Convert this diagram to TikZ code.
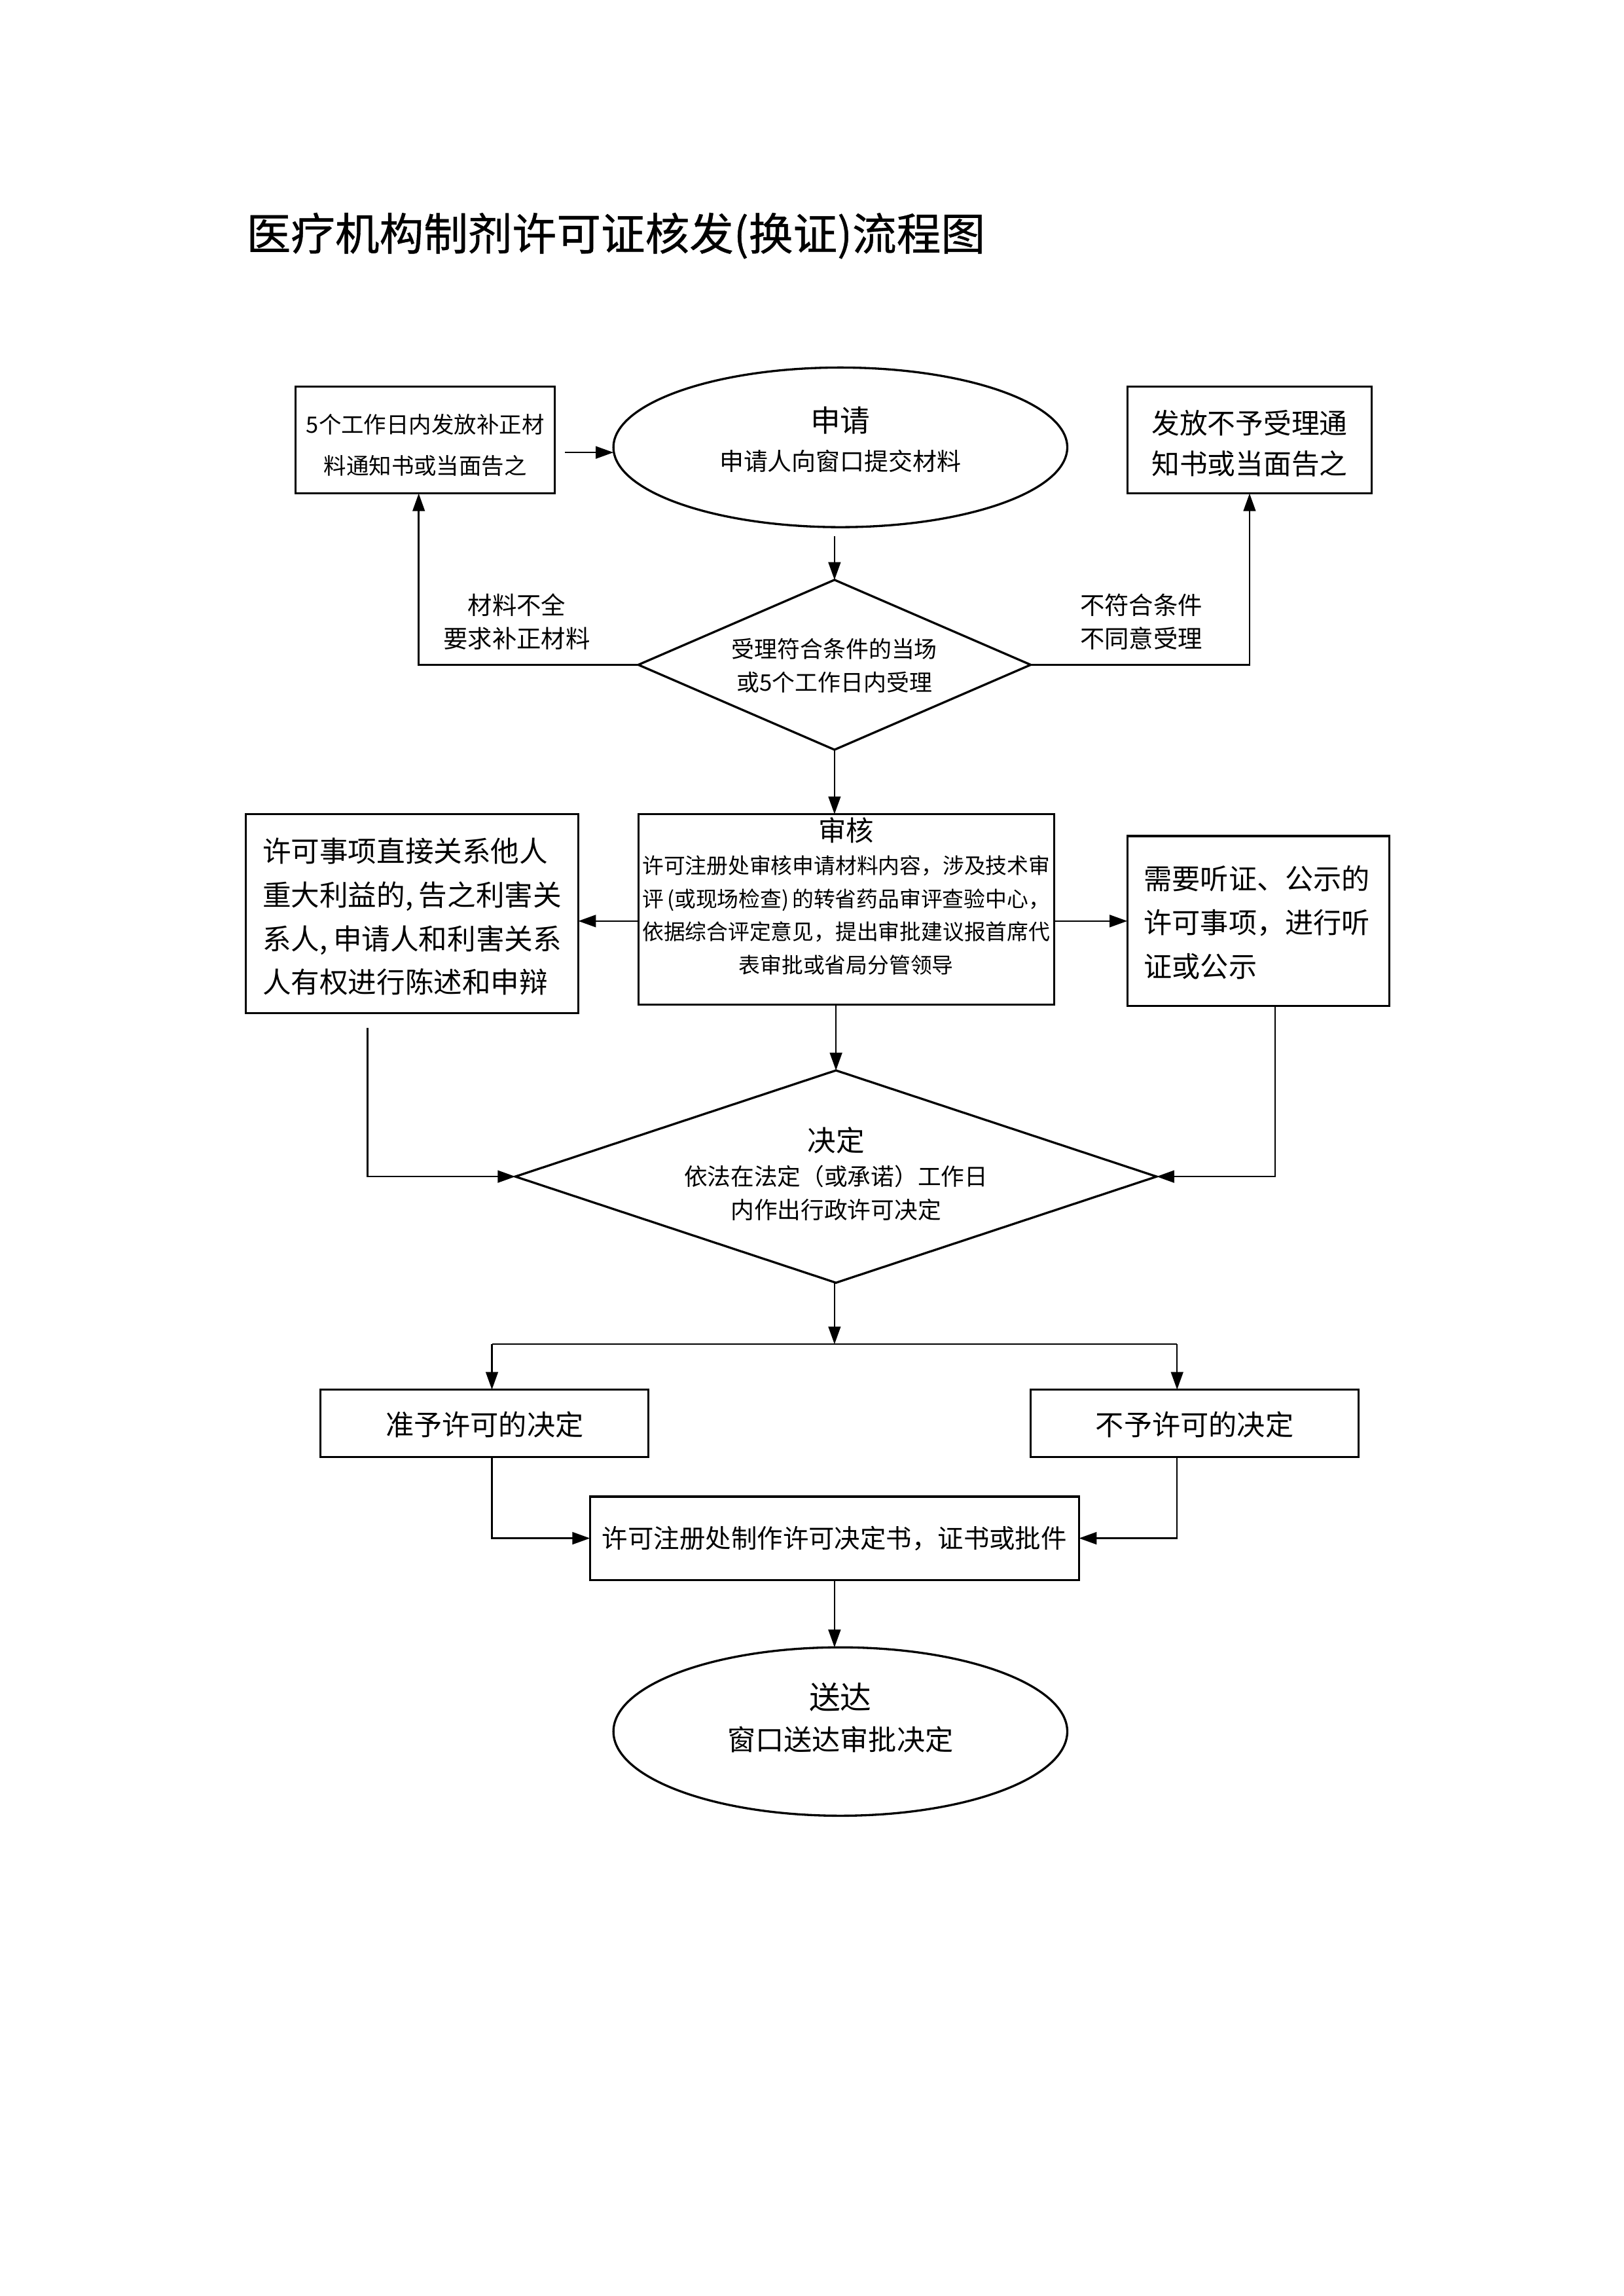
\documentclass[tikz,border=0pt]{standalone}
\usepackage{fontspec}
\setmainfont{Noto Sans CJK SC}
\usetikzlibrary{shapes.geometric,arrows.meta}
\def\px{0.18936mm}
\newcommand{\fs}[2]{\fontsize{#1}{#2}\selectfont}
\newcommand{\hcomma}{,\hspace{0.2em}}
\tikzset{
  shapeline/.style={draw=black, line width=0.8pt, inner sep=0pt, outer sep=0pt},
  boxshape/.style={shapeline, rectangle},
  ovalshape/.style={shapeline, ellipse},
  diashape/.style={shapeline, diamond},
  conn/.style={draw=black, line width=0.6pt},
  arr/.style={conn, -{Triangle[length=6.5pt,width=4.5pt]}},
  txt/.style={inner sep=0pt, align=center, text=black},
}
\begin{document}
\begin{tikzpicture}[x=0.18936mm, y=-0.18936mm]
\useasboundingbox (0,0) rectangle (1109,1568);
\fill[white] (0,0) rectangle (1109,1568);

% title
\node[txt, anchor=west, font={\fs{16.3}{20}\addfontfeatures{FakeBold=0.6}}] (title) at (168,161) {医疗机构制剂许可证核发(换证)流程图};

% shapes
\node[boxshape, minimum width=177*\px, minimum height=73*\px] (a1) at (290.5,300.5) {};
\node[ovalshape, minimum width=310*\px, minimum height=109*\px] (sq) at (574,305.5) {};
\node[boxshape, minimum width=167*\px, minimum height=73*\px] (a2) at (853.5,300.5) {};
\node[diashape, minimum width=268*\px, minimum height=116*\px] (d1) at (570,454) {};
\node[boxshape, minimum width=284*\px, minimum height=130*\px] (rv) at (578,621) {};
\node[boxshape, minimum width=227*\px, minimum height=136*\px] (lb) at (281.5,624) {};
\node[boxshape, minimum width=179*\px, minimum height=116*\px] (rb) at (859.5,629) {};
\node[diashape, minimum width=438*\px, minimum height=145*\px] (d2) at (571,803.5) {};
\node[boxshape, minimum width=224*\px, minimum height=46*\px] (yb) at (331,972) {};
\node[boxshape, minimum width=224*\px, minimum height=46*\px] (nb) at (816,972) {};
\node[boxshape, minimum width=334*\px, minimum height=57*\px] (mk) at (570,1050.5) {};
\node[ovalshape, minimum width=310*\px, minimum height=115*\px] (sd) at (574,1182.5) {};

% texts
\node[txt, font={\fs{8.3}{15}}] (a1t) at (290.5,304) {5个工作日内发放补正材\\料通知书或当面告之};
\node[txt, font={\fs{11}{13}}] (sqt1) at (574,287) {申请};
\node[txt, font={\fs{8.9}{11}}] (sqt2) at (574,315) {申请人向窗口提交材料};
\node[txt, font={\fs{10.3}{15}}] (a2t) at (853.5,303) {发放不予受理通\\知书或当面告之};
\node[txt, font={\fs{8.4}{12.3}}] (d1t) at (570,454.5) {受理符合条件的当场\\或5个工作日内受理};
\node[txt, font={\fs{9}{12.3}}] (l1) at (353,424.5) {材料不全\\要求补正材料};
\node[txt, font={\fs{9}{12.3}}] (l2) at (779.5,424.5) {不符合条件\\不同意受理};
\node[txt, font={\fs{10.2}{12}}] (rvt1) at (578,567) {审核};
\node[txt, font={\fs{7.9}{12.2}}] (rvt2) at (578,625) {许可注册处审核申请材料内容，涉及技术审\\评\hspace{0.15em}(或现场检查)\hspace{0.15em}的转省药品审评查验中心，\\依据综合评定意见，提出审批建议报首席代\\表审批或省局分管领导};
\node[txt, anchor=west, align=left, font={\fs{10.5}{16.1}}] (lbt) at (179,626) {许可事项直接关系他人\\重大利益的\hcomma 告之利害关\\系人\hcomma 申请人和利害关系\\人有权进行陈述和申辩};
\node[txt, anchor=west, align=left, font={\fs{10.4}{16.1}}] (rbt) at (781,630) {需要听证、公示的\\许可事项，进行听\\证或公示};
\node[txt, font={\fs{10.5}{12}}] (d2t1) at (571,779) {决定};
\node[txt, font={\fs{8.6}{12.3}}] (d2t2) at (571,814.5) {依法在法定（或承诺）工作日\\内作出行政许可决定};
\node[txt, font={\fs{10.4}{12}}] (ybt) at (331,973) {准予许可的决定};
\node[txt, font={\fs{10.4}{12}}] (nbt) at (816,973) {不予许可的决定};
\node[txt, font={\fs{9.5}{12}}] (mkt) at (570,1050.5) {许可注册处制作许可决定书，证书或批件};
\node[txt, font={\fs{11.5}{13}}] (sdt1) at (574,1159) {送达};
\node[txt, font={\fs{10.4}{12}}] (sdt2) at (574,1188) {窗口送达审批决定};

% connectors
\draw[arr] ([xshift=7*\px,yshift=-8.5*\px]a1.east) -- ([yshift=-3.5*\px]sq.west);
\draw[arr] ([yshift=-6*\px]sq.south -| d1.north) -- (d1.north);
\draw[arr] (d1.west) -| ([xshift=-4.5*\px]a1.south);
\draw[arr] (d1.east) -| (a2.south);
\draw[arr] (d1.south) -- (d1.south |- rv.north);
\draw[arr] ([yshift=-8*\px]rv.west) -- ([yshift=-8*\px]rv.west -| lb.east);
\draw[arr] (rv.east |- rb.west) -- (rb.west);
\draw[arr] (d2.north |- rv.south) -- (d2.north);
\draw[arr] ([xshift=-30.5*\px,yshift=-10*\px]lb.south) |- (d2.west);
\draw[arr] ([xshift=11.5*\px]rb.south) |- (d2.east);
\coordinate (sp) at (570,918);
\coordinate (spl) at (336,918);
\coordinate (spr) at (804,918);
\draw[conn] (spl) -- (spr);
\draw[arr] (d2.south -| sp) -- (sp);
\draw[arr] (spl) -- (spl |- yb.north);
\draw[arr] (spr) -- (spr |- nb.north);
\draw[arr] (spl |- yb.south) |- (mk.west);
\draw[arr] (spr |- nb.south) |- (mk.east);
\draw[arr] (mk.south) -- (mk.south |- sd.north);
\end{tikzpicture}
\end{document}
